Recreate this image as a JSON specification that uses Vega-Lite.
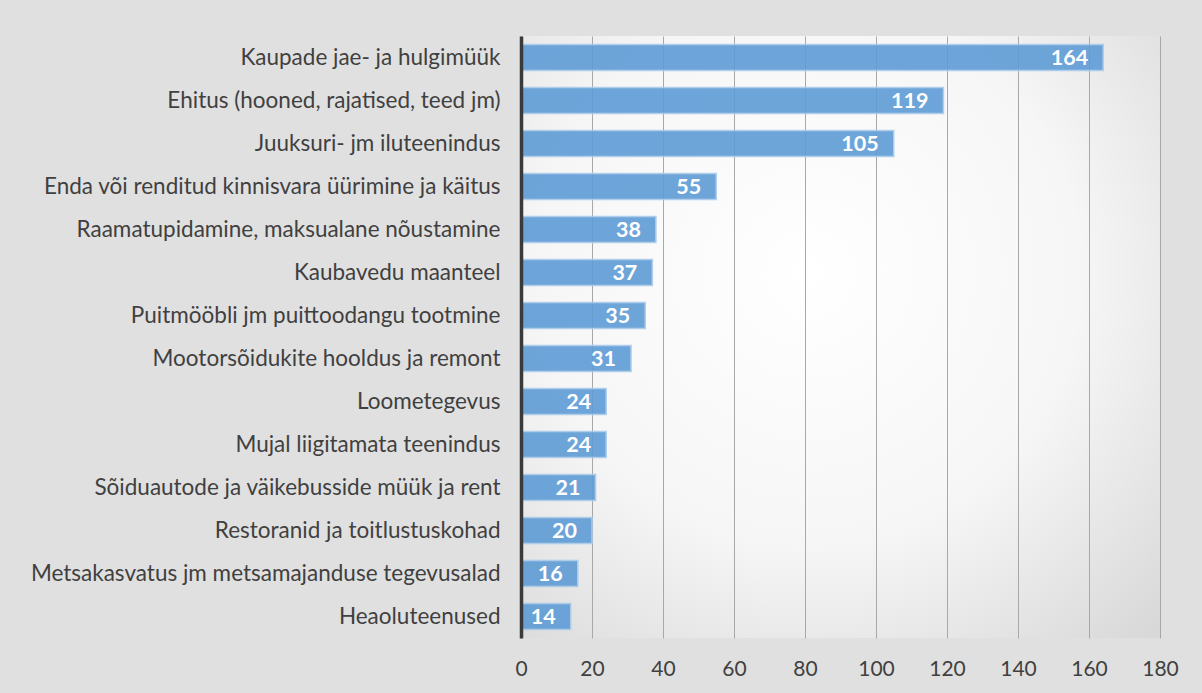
{
  "$schema": "https://vega.github.io/schema/vega-lite/v6.json",
  "autosize": "none",
  "width": 639,
  "height": 602,
  "padding": {"left": 521, "top": 36, "right": 42, "bottom": 55},
  "background": "#e0e0e0",
  "data": {"values": [
    {"category": "Kaupade jae- ja hulgimüük", "value": 164},
    {"category": "Ehitus (hooned, rajatised, teed jm)", "value": 119},
    {"category": "Juuksuri- jm iluteenindus", "value": 105},
    {"category": "Enda või renditud kinnisvara üürimine ja käitus", "value": 55},
    {"category": "Raamatupidamine, maksualane nõustamine", "value": 38},
    {"category": "Kaubavedu maanteel", "value": 37},
    {"category": "Puitmööbli jm puittoodangu tootmine", "value": 35},
    {"category": "Mootorsõidukite hooldus ja remont", "value": 31},
    {"category": "Loometegevus", "value": 24},
    {"category": "Mujal liigitamata teenindus", "value": 24},
    {"category": "Sõiduautode ja väikebusside müük ja rent", "value": 21},
    {"category": "Restoranid ja toitlustuskohad", "value": 20},
    {"category": "Metsakasvatus jm metsamajanduse tegevusalad", "value": 16},
    {"category": "Heaoluteenused", "value": 14}
  ]},
  "encoding": {
    "y": {
      "field": "category", "type": "nominal", "sort": null, "title": null,
      "scale": {"paddingInner": 0.4, "paddingOuter": 0.2},
      "axis": {
        "zindex": 1,
        "domain": true, "domainColor": "#3a3a3a", "domainWidth": 3.5,
        "ticks": false, "grid": false, "labelPadding": 21,
        "labelFont": "Lato", "labelFontSize": 22.5, "labelColor": "#404040",
        "labelLimit": 600
      }
    },
    "x": {
      "field": "value", "type": "quantitative", "title": null,
      "scale": {"domain": [0, 180], "nice": false},
      "axis": {
        "values": [0, 20, 40, 60, 80, 100, 120, 140, 160, 180],
        "domain": false, "ticks": false, "grid": true,
        "gridColor": "#a8a8a8", "gridWidth": 1,
        "labelPadding": 20, "labelFont": "Lato", "labelFontSize": 21,
        "labelColor": "#404040", "labelFlush": false
      }
    }
  },
  "layer": [
    {
      "mark": {"type": "bar", "color": "#5f9cd6", "opacity": 0.9, "stroke": "#a9c9ea", "strokeWidth": 1.5}
    },
    {
      "mark": {"type": "text", "align": "right", "baseline": "middle", "dx": -15, "dy": 1,
               "font": "Lato", "fontWeight": "bold", "fontSize": 21.5, "color": "#ffffff"},
      "encoding": {"text": {"field": "value", "type": "quantitative"}}
    }
  ],
  "config": {
    "view": {
      "stroke": null,
      "fill": {
        "gradient": "radial",
        "x1": 0.45, "y1": 0.4, "r1": 0,
        "x2": 0.45, "y2": 0.4, "r2": 0.85,
        "stops": [
          {"offset": 0, "color": "#ffffff"},
          {"offset": 0.5, "color": "#f6f6f6"},
          {"offset": 1, "color": "#d2d2d2"}
        ]
      }
    }
  }
}
